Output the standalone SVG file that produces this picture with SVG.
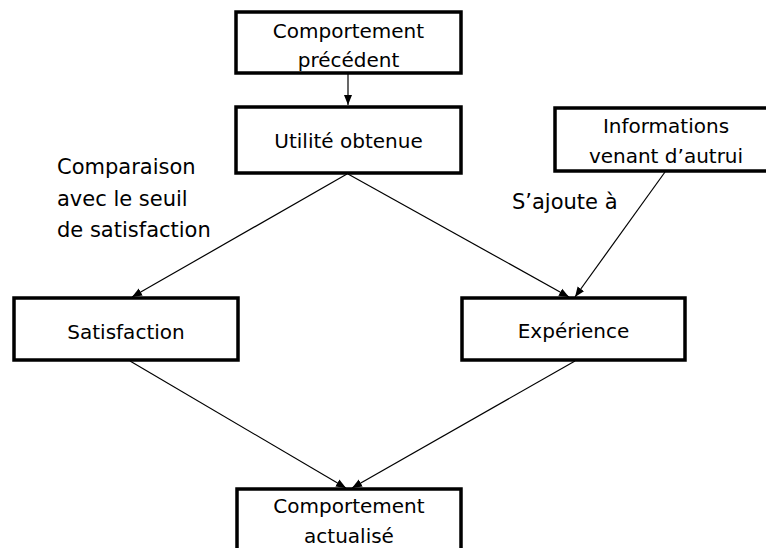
<svg xmlns="http://www.w3.org/2000/svg" width="766" height="548" viewBox="0 0 766 548">
<style>
.box{fill:#fff;stroke:#000;stroke-width:3.5}
.t{font-family:"DejaVu Sans","Liberation Sans",sans-serif;font-size:20px;fill:#000;text-anchor:middle}
.lbl{font-family:"DejaVu Sans","Liberation Sans",sans-serif;font-size:21px;fill:#000}
.c{stroke:#000;stroke-width:1.2;fill:none;marker-end:url(#ah)}
</style>
<defs>
<marker id="ah" markerUnits="userSpaceOnUse" markerWidth="10" markerHeight="10" viewBox="0 0 10 10" refX="10" refY="5" orient="auto">
<path d="M0,1 L10,5 L0,9 Z" fill="#000"/>
</marker>
</defs>
<rect width="766" height="548" fill="#fff"/>
<g id="connectors">
<line class="c" x1="348" y1="74" x2="348" y2="105"/>
<line class="c" x1="347" y1="174" x2="132" y2="297"/>
<line class="c" x1="348" y1="174" x2="569" y2="297"/>
<line class="c" x1="665" y1="172" x2="575" y2="297"/>
<line class="c" x1="130" y1="361" x2="346" y2="488"/>
<line class="c" x1="575" y1="361" x2="352" y2="488"/>
</g>
<g id="n-precedent">
<rect class="box" x="236" y="12" width="225" height="61"/>
<text class="t" x="348.5" y="38">Comportement</text>
<text class="t" x="348.5" y="67">précédent</text>
</g>
<g id="n-utilite">
<rect class="box" x="236" y="107" width="225" height="66"/>
<text class="t" x="348.5" y="148">Utilité obtenue</text>
</g>
<g id="n-informations">
<rect class="box" x="555" y="108" width="222" height="63"/>
<text class="t" x="666" y="133">Informations</text>
<text class="t" x="666" y="163">venant d’autrui</text>
</g>
<g id="n-satisfaction">
<rect class="box" x="14" y="298" width="224" height="62"/>
<text class="t" x="126" y="339">Satisfaction</text>
</g>
<g id="n-experience">
<rect class="box" x="462" y="298" width="223" height="62"/>
<text class="t" x="573.5" y="338">Expérience</text>
</g>
<g id="n-actualise">
<rect class="box" x="237" y="489" width="224" height="70"/>
<text class="t" x="349" y="513">Comportement</text>
<text class="t" x="349" y="543">actualisé</text>
</g>
<g id="labels">
<text class="lbl" x="57" y="174">Comparaison</text>
<text class="lbl" x="57" y="206">avec le seuil</text>
<text class="lbl" x="57" y="237">de satisfaction</text>
<text class="lbl" x="512" y="209">S’ajoute à</text>
</g>
</svg>
